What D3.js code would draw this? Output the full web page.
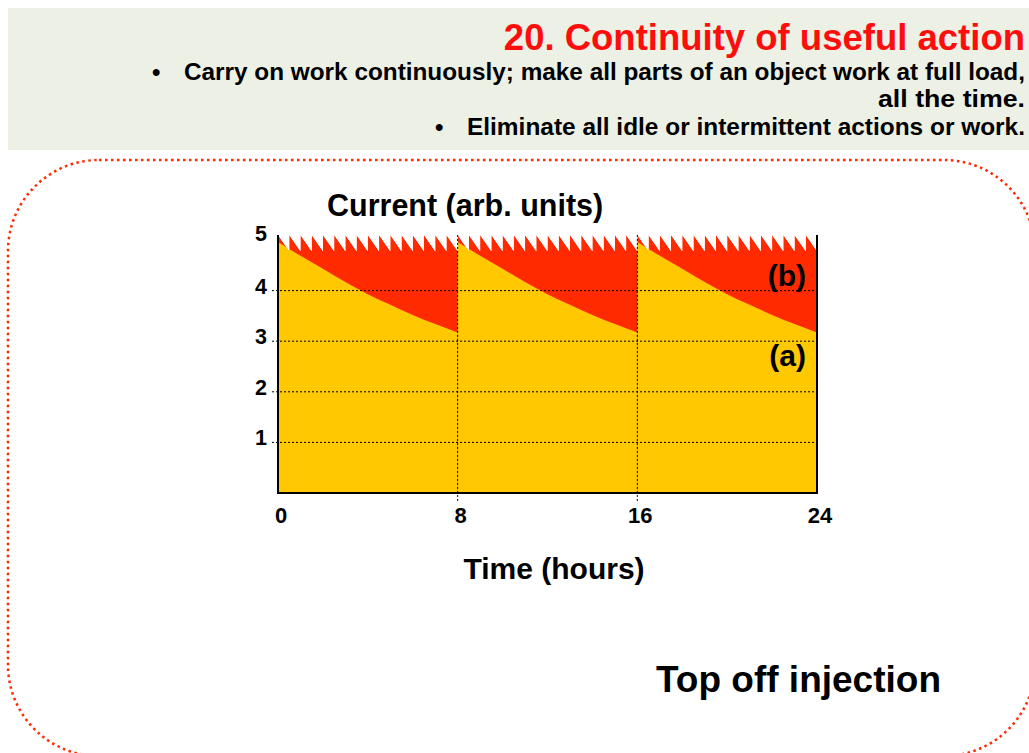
<!DOCTYPE html>
<html>
<head>
<meta charset="utf-8">
<script src="https://cdnjs.cloudflare.com/ajax/libs/d3/7.8.5/d3.min.js"></script>
<style>
    body { margin: 0; background: #ffffff; }
    svg { display: block; font-family: "Liberation Sans", Arial, sans-serif; font-weight: bold; }
</style>
</head>
<body>
<svg id="slide" width="1029" height="753"></svg>
<script>
// slide header
var titleText = '20. Continuity of useful action';
var bulletLines = [
    {text: 'Carry on work continuously; make all parts of an object work at full load,', bullet: true},
    {text: 'all the time.', bullet: false},
    {text: 'Eliminate all idle or intermittent actions or work.', bullet: true}
];

// axes
var hourTicks = [0, 8, 16, 24];
var currentTicks = [1, 2, 3, 4, 5];
var gridCurrents = [1, 2, 3, 4];
var refillHours = [8, 16];

// (a) beam current over one 8 hour fill, read every hour
var cycleStarts = [0, 8, 16];
var decayHours = [0, 1, 2, 3, 4, 5, 6, 7, 8];
var decayCurrent = [4.96, 4.69, 4.43, 4.17, 3.93, 3.72, 3.52, 3.34, 3.17];

// (b) top off injections inside each fill (hours after fill start)
var injectionOffsets = [0, 0.5, 1, 1.5, 2, 2.5, 3, 3.5, 4, 4.5, 5, 5.5, 6, 6.5, 7, 7.5, 8];
var toothTop = 5.1;
var toothBottom = 4.78;

/** Class drawing the slide and the chart. */
class TopOffChart {
    constructor() {
        this.svg = d3.select('#slide');
        this.x = d3.scaleLinear().domain([0, 24]).range([278, 817]);
        this.y = d3.scaleLinear().domain([0, 5]).range([493, 240]);
    }

    /**
     * Header box with the title and bullets
     */
    drawHeader() {
        var svg = this.svg;
        svg.append('rect')
            .attr('x', 8).attr('y', 8)
            .attr('width', 1021).attr('height', 142)
            .attr('fill', '#edf0e4');
        svg.append('text')
            .attr('x', 1025).attr('y', 50)
            .attr('text-anchor', 'end')
            .attr('font-size', 36.5)
            .attr('fill', '#ff0d0d')
            .text(titleText);
        var baselines = [80, 107, 135];
        // line widths as they stand in the slide
        var widths = [841, 147, 558];
        bulletLines.forEach(function(d, i) {
            svg.append('text')
                .attr('x', 1025).attr('y', baselines[i])
                .attr('text-anchor', 'end')
                .attr('font-size', 24)
                .attr('textLength', widths[i])
                .attr('lengthAdjust', 'spacingAndGlyphs')
                .text(d.text);
            if (d.bullet) {
                svg.append('text')
                    .attr('x', 1025 - widths[i] - 32).attr('y', baselines[i])
                    .attr('font-size', 24)
                    .text('\u2022');
            }
        });
        // dotted rounded frame round the chart
        svg.append('rect')
            .attr('x', 8).attr('y', 160)
            .attr('width', 1027).attr('height', 596)
            .attr('rx', 91).attr('ry', 91)
            .attr('fill', 'none')
            .attr('stroke', '#ff2a00')
            .attr('stroke-width', 2.5)
            .attr('stroke-dasharray', '2.5 3.5');
    }

    /**
     * Red sawtooth (b) and yellow decay (a)
     */
    drawAreas() {
        var x = this.x, y = this.y;
        // sawtooth outline of the top off current
        var teeth = [];
        cycleStarts.forEach(function(c) {
            for (var i = 0; i < injectionOffsets.length - 1; i++) {
                teeth.push({t: c + injectionOffsets[i], v: toothTop});
                teeth.push({t: c + injectionOffsets[i + 1], v: toothBottom});
            }
        });
        var saw = d3.area()
            .x(function(d) { return x(d.t); })
            .y0(y(0))
            .y1(function(d) { return y(d.v); });

        this.svg.append('clipPath').attr('id', 'sawClip')
            .append('path').attr('d', saw(teeth));

        var g = this.svg.append('g').attr('clip-path', 'url(#sawClip)');
        g.append('path')
            .attr('d', saw(teeth))
            .attr('fill', '#ff2a00');

        var decay = d3.area()
            .curve(d3.curveMonotoneX)
            .x(function(d) { return x(d.t); })
            .y0(y(0))
            .y1(function(d) { return y(d.v); });
        g.selectAll('path.fill')
            .data(cycleStarts)
            .enter()
            .append('path')
            .classed('fill', true)
            .attr('fill', '#ffc800')
            .attr('d', function(c) {
                return decay(decayHours.map(function(h, i) { return {t: c + h, v: decayCurrent[i]}; }));
            });
    }

    /**
     * Dotted grid lines, frame and tick labels
     */
    drawAxes() {
        var x = this.x, y = this.y, svg = this.svg;
        svg.selectAll('line.hgrid')
            .data(gridCurrents)
            .enter()
            .append('line')
            .classed('hgrid', true)
            .attr('x1', x(0) - 6).attr('x2', x(24))
            .attr('y1', function(d) { return y(d); })
            .attr('y2', function(d) { return y(d); })
            .attr('stroke', '#000').attr('stroke-width', 1)
            .attr('stroke-dasharray', '2 2');
        svg.selectAll('line.vgrid')
            .data(refillHours)
            .enter()
            .append('line')
            .classed('vgrid', true)
            .attr('x1', function(d) { return x(d); })
            .attr('x2', function(d) { return x(d); })
            .attr('y1', y(toothTop)).attr('y2', y(0) + 8)
            .attr('stroke', '#000').attr('stroke-width', 1)
            .attr('stroke-dasharray', '2 2');

        // frame: left, bottom and right sides
        svg.append('path')
            .attr('d', 'M' + x(0) + ',' + y(toothTop) + 'V' + y(0) + 'H' + x(24) + 'V' + y(toothTop))
            .attr('fill', 'none')
            .attr('stroke', '#000')
            .attr('stroke-width', 2);

        svg.selectAll('text.ylab')
            .data(currentTicks)
            .enter()
            .append('text')
            .classed('ylab', true)
            .attr('x', 267)
            .attr('y', function(d) { return y(d) + (d === 5 ? 1 : 3); })
            .attr('text-anchor', 'end')
            .attr('font-size', 21.5)
            .text(function(d) { return d; });
        svg.selectAll('text.xlab')
            .data(hourTicks)
            .enter()
            .append('text')
            .classed('xlab', true)
            .attr('x', function(d) { return x(d) + 3; })
            .attr('y', 523)
            .attr('text-anchor', 'middle')
            .attr('font-size', 22)
            .text(function(d) { return d; });

        svg.append('text')
            .attr('x', 327).attr('y', 216)
            .attr('font-size', 30.5)
            .text('Current (arb. units)');
        svg.append('text')
            .attr('x', 554).attr('y', 579)
            .attr('text-anchor', 'middle')
            .attr('font-size', 30)
            .text('Time (hours)');
        svg.append('text')
            .attr('x', 806).attr('y', 286)
            .attr('text-anchor', 'end')
            .attr('font-size', 30)
            .text('(b)');
        svg.append('text')
            .attr('x', 806).attr('y', 366)
            .attr('text-anchor', 'end')
            .attr('font-size', 30)
            .text('(a)');
        svg.append('text')
            .attr('x', 656).attr('y', 692)
            .attr('font-size', 37)
            .text('Top off injection');
    }
}

var chart = new TopOffChart();
chart.drawHeader();
chart.drawAreas();
chart.drawAxes();
</script>
</body>
</html>
